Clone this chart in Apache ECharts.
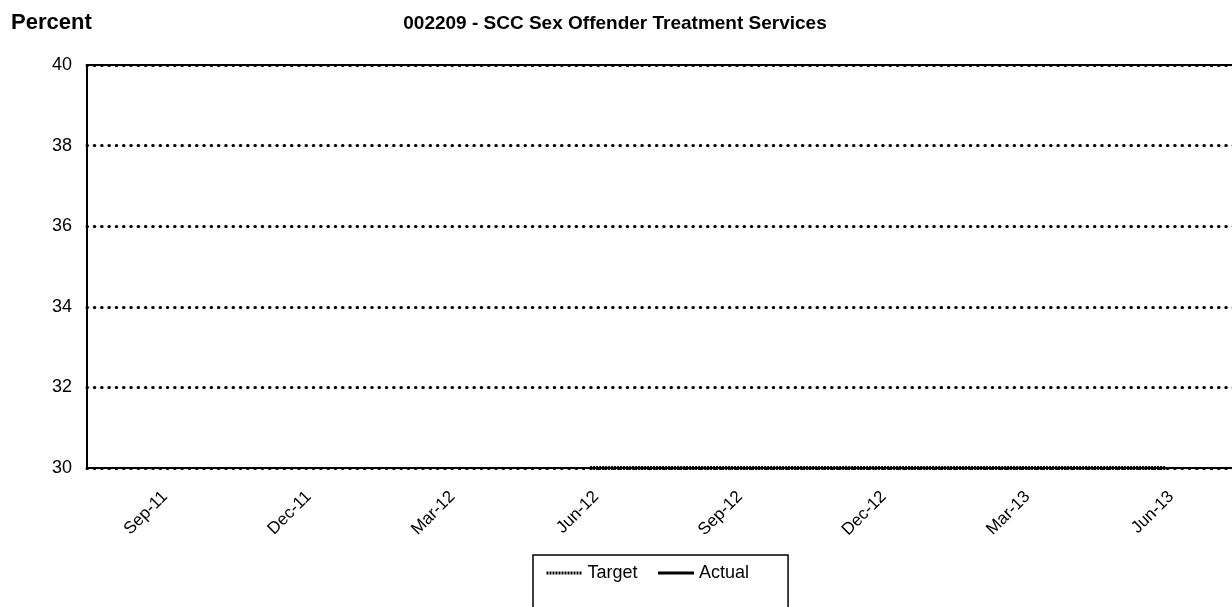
<!DOCTYPE html>
<html>
<head>
<meta charset="utf-8">
<script src="https://cdn.jsdelivr.net/npm/echarts@6/dist/echarts.min.js"></script>
<style>
  html, body { margin: 0; padding: 0; background: #fff; overflow: hidden; }
  /* plot area runs past the right edge of the window, as in the original */
  #chart { width: 1285px; height: 607px; }
</style>
</head>
<body>
<div id="chart"></div>
<script>
// monthly categories, label shown every quarter
var months = ['Aug-11', 'Sep-11', 'Oct-11', 'Nov-11', 'Dec-11', 'Jan-12', 'Feb-12', 'Mar-12',
    'Apr-12', 'May-12', 'Jun-12', 'Jul-12', 'Aug-12', 'Sep-12', 'Oct-12', 'Nov-12', 'Dec-12',
    'Jan-13', 'Feb-13', 'Mar-13', 'Apr-13', 'May-13', 'Jun-13', 'Jul-13', 'Aug-13'];
var targetValues = [null, null, null, null, null, null, null, null, null, null,
    30, 30, 30, 30, 30, 30, 30, 30, 30, 30, 30, 30, 30, null, null];
var actualValues = [null, null, null, null, null, null, null, null, null, null,
    null, null, null, null, null, null, null, null, null, null, null, null, null, null, null];
var shownLabels = ['Sep-11', 'Dec-11', 'Mar-12', 'Jun-12', 'Sep-12', 'Dec-12', 'Mar-13', 'Jun-13'];

var font = 'Arial, "Liberation Sans", sans-serif';

var chart = echarts.init(document.getElementById('chart'));

var option = {
    backgroundColor: '#fff',
    animation: false,
    title: [{
        text: 'Percent',
        left: 6,
        top: 7,
        textStyle: { fontFamily: font, fontSize: 22, fontWeight: 'bold', color: '#000' }
    }, {
        text: '002209 - SCC Sex Offender Treatment Services',
        left: 610,
        textAlign: 'center',
        top: 9,
        textStyle: { fontFamily: font, fontSize: 19, fontWeight: 'bold', color: '#000' }
    }],
    legend: {
        left: 533,
        top: 555,
        orient: 'horizontal',
        padding: [9, 39, 40, 12],
        borderColor: '#000',
        borderWidth: 1.5,
        itemWidth: 36,
        itemHeight: 14,
        itemGap: 19,
        itemStyle: { opacity: 0 },
        lineStyle: { width: 3 },
        textStyle: { fontFamily: font, fontSize: 18, color: '#000' },
        data: ['Target', 'Actual']
    },
    grid: {
        left: 87,
        right: 0,
        top: 65,
        bottom: 139,
        containLabel: false
    },
    xAxis: [{
        type: 'category',
        data: months,
        boundaryGap: true,
        axisLine: { show: true, lineStyle: { color: '#000', width: 2 } },
        axisTick: { show: false },
        axisLabel: {
            rotate: 45,
            interval: function (idx, val) { return shownLabels.indexOf(val) >= 0; },
            fontFamily: font,
            fontSize: 17,
            color: '#000',
            verticalAlign: 'top',
            margin: 20
        }
    }, {
        // top frame line of the plot area
        type: 'category',
        position: 'top',
        data: months,
        axisLine: { show: true, lineStyle: { color: '#000', width: 2 } },
        axisTick: { show: false },
        axisLabel: { show: false }
    }],
    yAxis: {
        type: 'value',
        min: 30,
        max: 40,
        interval: 2,
        axisLine: { show: true, lineStyle: { color: '#000', width: 2 } },
        axisTick: { show: false },
        axisLabel: { fontFamily: font, fontSize: 18, color: '#000', margin: 15 },
        splitLine: {
            show: true,
            lineStyle: { color: '#000', width: 3, type: [0.5, 6.8], cap: 'round' }
        }
    },
    series: [{
        name: 'Target',
        type: 'line',
        data: targetValues,
        symbol: 'none',
        clip: false,
        lineStyle: { color: '#000', width: 4, type: [2, 1] },
        itemStyle: { color: '#000' },
        z: 5
    }, {
        name: 'Actual',
        type: 'line',
        data: actualValues,
        symbol: 'none',
        clip: false,
        lineStyle: { color: '#000', width: 3, type: 'solid' },
        itemStyle: { color: '#000' }
    }]
};

chart.setOption(option);
</script>
</body>
</html>
